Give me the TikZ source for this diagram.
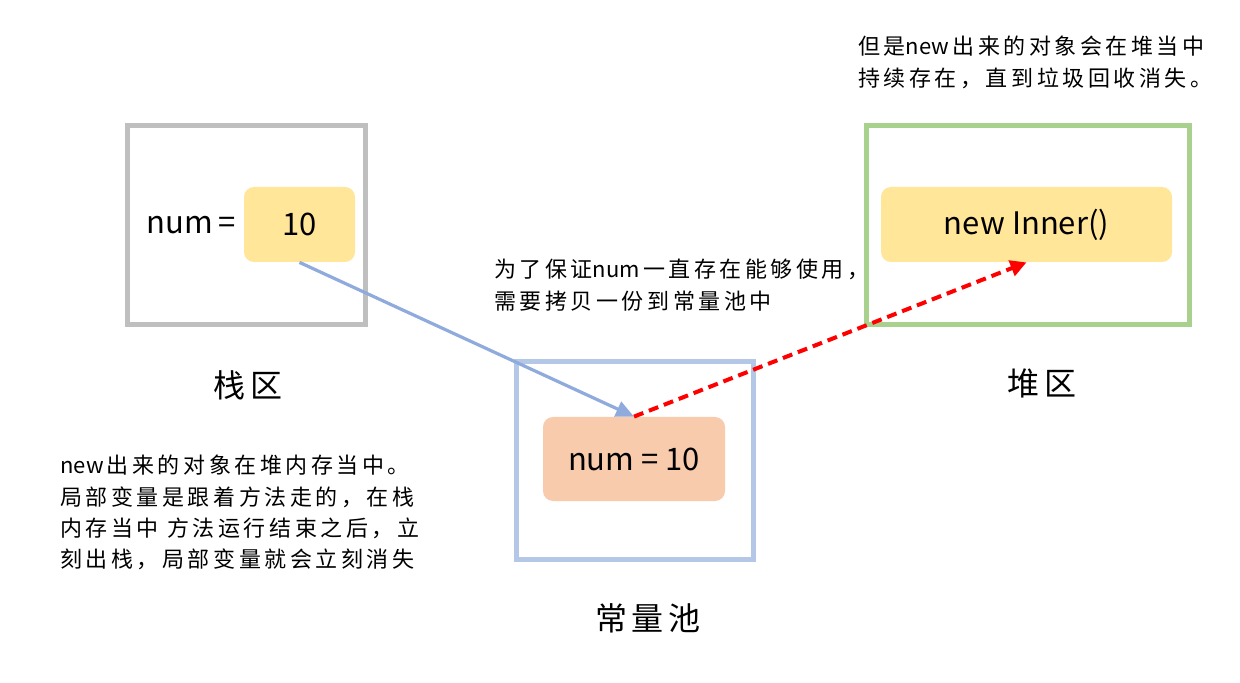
\documentclass[tikz,border=0pt]{standalone}
\usepackage{fontspec}
\setmainfont{Noto Sans CJK SC}
\newfontfamily\notefont[LetterSpace=16]{Noto Sans CJK SC}
\newfontfamily\titlefont[LetterSpace=14]{Noto Sans CJK SC}
\newfontfamily\plainfont{Noto Sans CJK SC}
\newcommand\latinpart[1]{{\plainfont #1}\hspace{1.6pt}}
\usetikzlibrary{arrows.meta}
\definecolor{graybox}{HTML}{BFBFBF}
\definecolor{greenbox}{HTML}{A9D18E}
\definecolor{bluebox}{HTML}{B4C7E7}
\definecolor{yellowfill}{HTML}{FFE699}
\definecolor{orangefill}{HTML}{F8CBAD}
\definecolor{bluearrow}{HTML}{8FAADC}
\definecolor{redarrow}{HTML}{FF0000}
\tikzset{
  frame/.style={draw=#1, line width=2.5pt, inner sep=0pt},
  valbox/.style={fill=#1, rounded corners=5pt, inner sep=0pt, font=\fontsize{15.5}{18}\selectfont},
  bigtitle/.style={font=\titlefont\fontsize{16}{18}\selectfont},
  note/.style={font=\notefont\fontsize{11}{15.6}\selectfont, align=left, anchor=north west, inner sep=0pt},
}
\begin{document}
\begin{tikzpicture}[x=0.5pt,y=-0.5pt]
\useasboundingbox[fill=white] (0,0) rectangle (1240,683);
% frames
\node[frame=graybox, minimum width=119pt, minimum height=99.5pt] (stack) at (246.5,225) {};
\node[frame=greenbox, minimum width=161.5pt, minimum height=99.5pt] (heap) at (1028,225) {};
\node[frame=bluebox, minimum width=118.5pt, minimum height=99pt] (pool) at (635,460.5) {};
% value boxes
\node[valbox=yellowfill, minimum width=55.5pt, minimum height=37.5pt] (ten) at (299.5,224.5) {10};
\node[font=\fontsize{15.5}{18}\selectfont, anchor=east, inner sep=0pt] (numeq) at (236,225) {num\,=};
\node[valbox=yellowfill, minimum width=145.5pt, minimum height=37.5pt] (inner) at (1026.5,224.5) {new Inner()};
\node[valbox=orangefill, minimum width=91pt, minimum height=42pt] (poolval) at (634,459) {num = 10};
% titles
\node[bigtitle] (stacklbl) at (248,385) {栈区};
\node[bigtitle] (heaplbl) at (1042,383) {堆区};
\node[bigtitle] (poollbl) at (648,618) {常量池};
% notes
\node[note] (topnote) at (858,36) {但是\latinpart{new}出来的对象会在堆当中\\持续存在，直到垃圾回收消失。};
\node[note] (midnote) at (494,259) {为了保证\latinpart{num}一直存在能够使用，\\需要拷贝一份到常量池中};
\node[note] (leftnote) at (60,455) {\latinpart{new}出来的对象在堆内存当中。\\局部变量是跟着方法走的，在栈\\内存当中 方法运行结束之后，立\\刻出栈，局部变量就会立刻消失};
% arrows
\draw[bluearrow, line width=1.6pt, -{Triangle[length=9pt,width=8pt]}] (ten.south) -- (poolval.north);
\draw[redarrow, line width=2pt, dash pattern=on 5pt off 3pt, -{Triangle[length=8pt,width=8pt]}] (poolval.north) -- (inner.south);
\end{tikzpicture}
\end{document}
